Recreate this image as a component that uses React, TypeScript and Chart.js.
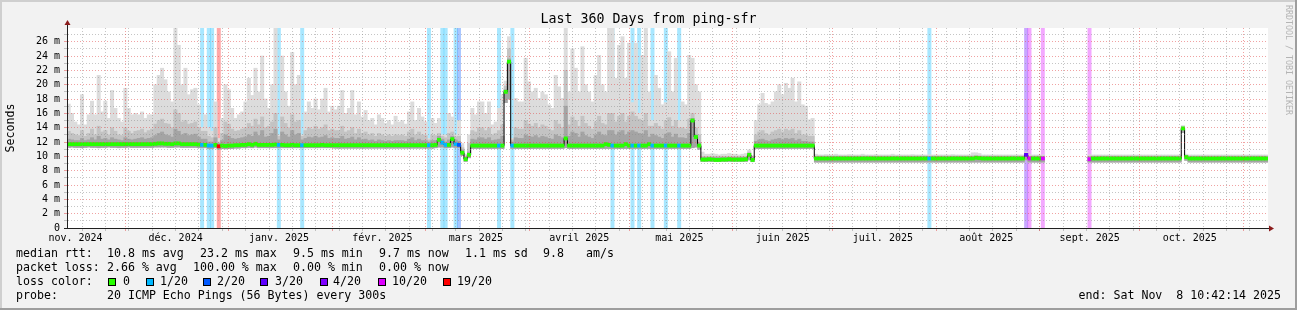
import React, { useEffect, useRef } from 'react';
import { Chart, registerables } from 'chart.js';

Chart.register(...registerables);

// ---------- texts ----------
const TITLE = 'Last 360 Days from ping-sfr';
const Y_AXIS_TITLE = 'Seconds';
const WATERMARK = 'RRDTOOL / TOBI OETIKER';
const DAYS = 360;
const Y_MAX = 27.91;

// ---------- axes (day offsets from the start of the 360-day window) ----------
const monthLabels = ['nov. 2024', 'déc. 2024', 'janv. 2025', 'févr. 2025', 'mars 2025', 'avril 2025', 'mai 2025', 'juin 2025', 'juil. 2025', 'août 2025', 'sept. 2025', 'oct. 2025'];
const monthLabelDays = [2.554, 32.554, 63.554, 94.554, 122.554, 153.554, 183.554, 214.554, 244.554, 275.554, 306.554, 336.554];
const monthStartDays = [17.554, 48.554, 79.554, 107.554, 138.554, 168.554, 199.554, 229.554, 260.554, 291.554, 321.554, 352.554];
const firstMondayDay = 4.554;
const yTickValues = [0, 2, 4, 6, 8, 10, 12, 14, 16, 18, 20, 22, 24, 26];

// ---------- data: one value per day, in ms ----------
const medianRtt = [
  11.7,11.7,11.7,11.7,11.7,11.7,11.7,11.7,11.7,11.7,11.7,11.7,11.7,11.7,11.7,11.7,11.7,11.7,11.7,11.7,
  11.7,11.7,11.7,11.7,11.7,11.7,11.75,11.8,11.8,11.75,11.75,11.7,11.8,11.8,11.7,11.7,11.7,11.7,11.7,11.65,
  11.6,11.6,11.5,11.5,11.6,11.4,11.5,11.45,11.5,11.5,11.55,11.55,11.6,11.6,11.7,11.6,11.75,11.6,11.6,11.6,
  11.6,11.6,11.65,11.6,11.6,11.55,11.55,11.6,11.55,11.55,11.55,11.55,11.55,11.55,11.55,11.55,11.6,11.55,11.55,11.55,
  11.55,11.55,11.55,11.55,11.55,11.55,11.55,11.55,11.55,11.55,11.55,11.55,11.55,11.55,11.55,11.55,11.55,11.55,11.55,11.55,
  11.55,11.55,11.55,11.55,11.55,11.55,11.55,11.55,11.55,11.55,11.6,12.3,11.9,11.6,11.6,12.4,11.7,11.6,10.5,9.6,
  10.2,11.5,11.5,11.5,11.5,11.5,11.5,11.5,11.5,11.5,11.5,19.0,23.2,11.5,11.5,11.5,11.5,11.5,11.5,11.5,
  11.5,11.5,11.5,11.5,11.5,11.5,11.5,11.5,11.5,12.5,11.5,11.5,11.5,11.5,11.5,11.5,11.5,11.5,11.5,11.5,
  11.5,11.7,11.6,11.5,11.5,11.5,11.5,11.7,11.5,11.5,11.5,11.5,11.5,11.5,11.7,11.5,11.5,11.5,11.5,11.5,
  11.5,11.5,11.5,11.5,11.5,11.5,11.5,15.0,12.7,11.5,9.55,9.55,9.6,9.55,9.5,9.5,9.55,9.55,9.6,9.55,
  9.55,9.55,9.55,9.6,10.2,9.5,11.5,11.5,11.5,11.5,11.5,11.5,11.5,11.5,11.5,11.5,11.5,11.5,11.5,11.5,
  11.5,11.5,11.5,11.5,9.7,9.7,9.7,9.7,9.7,9.7,9.7,9.7,9.7,9.7,9.7,9.7,9.7,9.7,9.7,9.7,
  9.7,9.7,9.7,9.7,9.7,9.7,9.7,9.7,9.7,9.7,9.7,9.7,9.7,9.7,9.7,9.7,9.7,9.7,9.7,9.7,
  9.7,9.7,9.7,9.7,9.7,9.7,9.7,9.7,9.7,9.7,9.7,9.7,9.8,9.75,9.7,9.7,9.7,9.7,9.7,9.7,
  9.7,9.7,9.7,9.7,9.7,9.7,9.7,10.2,9.7,9.7,9.7,9.7,9.7,null,null,null,null,null,null,null,
  null,null,null,null,null,null,9.6,9.7,9.7,9.7,9.7,9.7,9.7,9.7,9.7,9.7,9.7,9.7,9.7,9.7,
  9.7,9.7,9.7,9.7,9.7,9.7,9.7,9.7,9.7,9.7,9.7,9.7,9.7,9.7,13.9,9.9,9.7,9.7,9.7,9.7,
  9.7,9.7,9.7,9.7,9.7,9.7,9.7,9.7,9.7,9.7,9.7,9.7,9.7,9.7,9.7,9.7,9.7,9.7,9.7,9.7,
];

const smokeMin = [
  11.25,11.3,11.25,11.25,11.2,11.25,11.3,11.25,11.25,11.2,11.25,11.25,11.3,11.25,11.25,11.2,11.25,11.25,11.3,11.25,
  11.25,11.25,11.25,11.25,11.25,11.25,11.3,11.3,11.3,11.3,11.25,11.25,11.3,11.3,11.25,11.25,11.25,11.25,11.25,11.2,
  11.2,11.2,11.1,11.1,11.2,11.0,11.1,11.05,11.1,11.1,11.15,11.15,11.2,11.2,11.25,11.2,11.3,11.2,11.2,11.2,
  11.2,11.2,11.2,11.2,11.2,11.2,11.2,11.2,11.2,11.2,11.2,11.2,11.2,11.2,11.2,11.2,11.2,11.2,11.2,11.2,
  11.15,11.15,11.15,11.15,11.15,11.15,11.15,11.15,11.15,11.15,11.15,11.15,11.15,11.15,11.15,11.15,11.15,11.15,11.15,11.15,
  11.15,11.15,11.15,11.15,11.15,11.15,11.15,11.15,11.15,11.15,11.2,11.3,11.3,11.2,11.2,11.3,11.25,11.2,10.1,9.3,
  9.8,11.1,11.1,11.1,11.1,11.1,11.1,11.1,11.1,11.1,11.1,17.5,18.0,11.1,11.1,11.1,11.1,11.1,11.1,11.1,
  11.1,11.1,11.1,11.1,11.1,11.1,11.1,11.1,11.1,11.2,11.1,11.1,11.1,11.1,11.1,11.1,11.1,11.1,11.1,11.1,
  11.1,11.1,11.1,11.1,11.1,11.1,11.1,11.1,11.1,11.1,11.1,11.1,11.1,11.1,11.1,11.1,11.1,11.1,11.1,11.1,
  11.1,11.1,11.1,11.1,11.1,11.1,11.1,11.2,11.3,11.0,9.3,9.3,9.3,9.3,9.3,9.3,9.3,9.3,9.3,9.3,
  9.3,9.3,9.3,9.3,9.5,9.25,11.1,11.1,11.1,11.1,11.1,11.1,11.1,11.1,11.1,11.1,11.1,11.1,11.1,11.1,
  11.1,11.1,11.1,11.1,9.2,9.2,9.2,9.2,9.2,9.2,9.2,9.2,9.2,9.2,9.2,9.2,9.2,9.2,9.2,9.2,
  9.2,9.2,9.2,9.2,9.2,9.2,9.2,9.2,9.2,9.2,9.2,9.2,9.2,9.2,9.2,9.2,9.2,9.2,9.2,9.2,
  9.2,9.2,9.2,9.2,9.2,9.2,9.2,9.2,9.2,9.2,9.2,9.2,9.2,9.2,9.2,9.2,9.2,9.2,9.2,9.2,
  9.2,9.2,9.2,9.2,9.2,9.2,9.2,9.5,9.2,9.2,9.2,9.2,9.2,null,null,null,null,null,null,null,
  null,null,null,null,null,null,9.2,9.2,9.2,9.2,9.2,9.2,9.2,9.2,9.2,9.2,9.2,9.2,9.2,9.2,
  9.2,9.2,9.2,9.2,9.2,9.2,9.2,9.2,9.2,9.2,9.2,9.2,9.2,9.2,13.3,9.45,9.2,9.2,9.2,9.2,
  9.2,9.2,9.2,9.2,9.2,9.2,9.2,9.2,9.2,9.2,9.2,9.2,9.2,9.2,9.2,9.2,9.2,9.2,9.2,9.2,
];

const smokeDark = [
  12.4,12.3,12.2,12.2,12.5,12.2,12.3,12.6,12.3,12.8,12.4,12.5,12.3,12.6,12.4,12.3,12.2,12.6,12.4,12.3,
  12.4,12.5,12.6,12.4,12.5,12.6,12.9,13.2,13.4,13.0,12.9,12.7,13.8,13.5,13.0,13.2,12.9,13.0,13.1,12.7,
  12.4,12.4,12.0,12.0,12.6,11.8,12.2,13.0,12.8,12.5,12.4,12.5,12.6,12.7,13.0,12.8,13.4,12.9,13.6,12.7,
  12.8,13.2,13.8,12.3,13.4,13.0,12.7,13.6,13.0,13.2,12.3,12.5,12.7,12.6,12.8,12.6,12.7,12.9,12.5,12.6,
  12.5,12.5,12.8,12.4,12.5,12.7,12.3,12.6,12.3,12.4,12.2,12.3,12.1,12.3,12.2,12.1,12.2,12.1,12.2,12.2,
  12.2,12.1,12.4,12.6,12.2,12.4,12.2,12.2,12.0,12.2,12.2,12.8,12.4,12.0,12.3,12.8,12.3,12.1,10.9,9.9,
  10.6,12.4,12.3,12.6,12.6,12.4,12.6,12.2,12.3,12.4,12.8,19.3,23.6,12.0,12.6,12.5,12.5,13.0,12.8,12.7,
  12.9,12.6,12.8,12.7,12.5,12.4,13.0,12.8,12.6,17.0,12.8,13.4,13.2,12.7,13.4,12.9,12.7,12.5,13.0,13.4,
  13.0,12.9,13.6,13.6,13.0,13.4,13.6,13.0,13.4,13.6,13.4,13.2,13.1,13.6,12.7,13.1,12.9,12.7,12.5,13.1,
  13.3,12.7,13.1,12.6,12.6,12.5,13.2,15.3,13.0,11.9,9.85,9.85,9.85,9.85,9.85,9.85,9.85,9.85,9.85,9.85,
  9.85,9.85,9.85,9.85,10.4,9.8,12.1,12.3,12.4,12.2,12.1,12.3,12.4,12.5,12.3,12.5,12.4,12.5,12.2,12.4,
  12.1,12.1,12.0,12.0,9.95,9.95,9.95,9.95,9.95,9.95,9.95,9.95,9.95,9.95,9.95,9.95,9.95,9.95,9.95,9.95,
  9.95,9.95,9.95,9.95,9.95,9.95,9.95,9.95,9.95,9.95,9.95,9.95,9.95,9.95,9.95,9.95,9.95,9.95,9.95,9.95,
  9.95,9.95,9.95,9.95,9.95,9.95,9.95,9.95,9.95,9.95,9.95,9.95,10.0,10.0,9.95,9.95,9.95,9.95,9.95,9.95,
  9.95,9.95,9.95,9.95,9.95,9.95,9.95,10.35,9.95,9.95,9.95,9.95,9.95,null,null,null,null,null,null,null,
  null,null,null,null,null,null,9.95,9.95,9.95,9.95,9.95,9.95,9.95,9.95,9.95,9.95,9.95,9.95,9.95,9.95,
  9.95,9.95,9.95,9.95,9.95,9.95,9.95,9.95,9.95,9.95,9.95,9.95,9.95,9.95,14.0,10.0,9.95,9.95,9.95,9.95,
  9.95,9.95,9.95,9.95,9.95,9.95,9.95,9.95,9.95,9.95,9.95,9.95,9.95,9.95,9.95,9.95,9.95,9.95,9.95,9.95,
];

const smokeMid = [
  13.5,13.2,13.0,12.9,13.6,12.8,13.2,13.8,13.0,14.2,13.4,13.6,13.0,14.0,13.5,13.0,12.9,14.0,13.5,13.2,
  13.5,13.6,13.8,13.3,13.6,13.8,14.5,15.0,15.2,14.6,14.5,14.0,16.5,16.0,14.8,15.0,14.5,14.6,14.8,14.0,
  13.5,13.5,12.8,12.6,14.0,12.0,13.2,14.8,14.5,13.8,13.5,13.6,13.8,14.0,14.6,14.2,15.2,14.4,15.5,14.0,
  14.2,14.8,16.0,12.8,15.5,14.6,14.0,15.8,14.8,15.0,12.8,13.6,14.0,13.8,14.2,13.8,14.0,14.4,13.6,13.8,
  13.6,13.6,14.2,13.4,13.6,14.0,13.2,13.8,13.2,13.4,13.0,13.2,12.8,13.2,13.0,12.8,13.0,12.8,13.0,12.9,
  13.0,12.8,13.4,13.8,13.0,13.4,13.0,12.9,12.3,13.0,12.9,13.2,12.8,12.6,13.2,13.4,12.7,12.8,11.2,10.0,
  11.8,13.6,13.4,14.0,14.0,13.6,14.0,13.0,13.2,13.6,14.4,19.8,25.0,12.3,14.0,13.8,13.8,15.0,14.5,14.2,
  14.6,14.0,14.4,14.2,13.8,13.6,15.0,14.5,14.0,22.0,14.4,15.5,15.0,14.2,15.6,14.6,14.2,13.8,14.8,15.6,
  14.6,14.4,16.0,16.0,14.8,15.6,16.0,14.8,15.6,16.2,15.6,15.2,15.0,16.0,14.2,14.2,14.6,14.2,13.8,15.0,
  15.4,14.2,15.0,14.0,14.0,13.8,15.2,16.0,14.0,13.0,10.0,10.0,10.0,10.0,10.0,10.0,10.0,10.0,10.0,10.0,
  10.0,10.0,10.0,10.0,10.6,9.95,13.0,13.4,13.6,13.2,13.0,13.4,13.6,13.8,13.4,13.8,13.6,13.8,13.2,13.6,
  13.0,13.0,12.8,12.8,10.05,10.05,10.05,10.05,10.05,10.05,10.05,10.05,10.05,10.05,10.05,10.05,10.05,10.05,10.05,10.05,
  10.05,10.05,10.05,10.05,10.05,10.05,10.05,10.05,10.05,10.05,10.05,10.05,10.05,10.05,10.05,10.05,10.05,10.05,10.05,10.05,
  10.05,10.05,10.05,10.05,10.05,10.05,10.05,10.05,10.05,10.05,10.05,10.1,10.15,10.1,10.05,10.05,10.05,10.05,10.05,10.05,
  10.05,10.05,10.05,10.05,10.05,10.05,10.05,10.45,10.05,10.05,10.05,10.05,10.05,null,null,null,null,null,null,null,
  null,null,null,null,null,null,10.05,10.05,10.05,10.05,10.05,10.05,10.05,10.05,10.05,10.05,10.05,10.05,10.05,10.05,
  10.05,10.05,10.05,10.05,10.05,10.05,10.05,10.05,10.05,10.05,10.05,10.05,10.05,10.05,14.1,10.1,10.05,10.05,10.05,10.05,
  10.05,10.05,10.05,10.05,10.05,10.05,10.05,10.05,10.05,10.05,10.05,10.05,10.05,10.05,10.05,10.05,10.05,10.05,10.05,10.05,
];

const smokeMax = [
  17.3,16.0,14.8,14.4,18.6,14.4,15.8,17.7,15.8,21.3,16.2,17.7,15.3,19.2,16.7,15.3,14.8,19.5,16.7,15.8,
  16.0,15.8,16.2,15.3,15.8,15.8,20.0,21.3,22.3,20.7,19.0,17.6,27.9,25.5,20.0,22.3,18.6,19.3,19.5,17.2,
  14.0,15.8,14.0,13.5,17.6,12.5,15.3,20.0,19.3,16.7,15.3,15.8,16.2,17.6,20.9,18.5,22.3,19.0,24.0,18.0,
  16.7,20.0,27.9,13.0,24.0,19.0,17.0,24.5,20.0,21.3,13.0,16.2,17.6,16.7,18.0,16.5,18.0,19.5,16.2,17.0,
  16.5,17.0,19.2,16.0,16.7,19.2,15.8,17.6,15.5,16.4,15.0,15.3,14.4,15.8,15.3,14.6,15.0,14.4,15.6,14.8,
  15.0,14.5,16.2,17.6,15.0,16.7,15.5,14.8,12.5,15.3,14.6,15.3,13.0,13.0,16.0,15.5,13.0,15.0,11.8,10.3,
  13.0,16.7,15.8,17.6,17.6,16.0,17.6,14.4,14.8,16.7,18.6,20.5,26.7,12.5,18.1,17.6,17.6,23.7,20.4,19.0,
  19.5,18.1,19.0,18.6,17.2,16.7,21.3,19.7,18.1,27.9,19.0,25.0,22.3,19.0,25.3,20.0,19.0,17.6,21.3,24.1,
  20.0,19.0,27.9,27.9,20.9,25.5,26.7,20.9,25.8,17.5,25.8,16.0,24.1,27.9,19.0,15.0,21.3,19.5,17.2,17.5,
  24.6,19.0,23.7,15.0,17.6,17.2,24.1,23.7,20.0,19.0,10.6,10.3,10.3,10.4,10.3,10.2,10.3,10.3,10.4,10.3,
  10.3,10.2,10.3,10.4,10.9,10.1,15.0,17.2,18.8,17.4,17.2,17.6,19.0,20.0,18.6,20.2,19.5,20.9,17.6,20.4,
  17.2,17.0,15.1,15.3,10.3,10.2,10.2,10.25,10.2,10.2,10.3,10.2,10.2,10.2,10.25,10.2,10.2,10.2,10.3,10.2,
  10.2,10.2,10.25,10.2,10.2,10.2,10.2,10.3,10.2,10.2,10.2,10.2,10.2,10.25,10.2,10.2,10.2,10.2,10.2,10.2,
  10.2,10.2,10.2,10.2,10.2,10.25,10.2,10.2,10.2,10.2,10.2,10.5,10.5,10.4,10.2,10.2,10.2,10.2,10.2,10.2,
  10.2,10.2,10.2,10.2,10.2,10.2,10.2,10.6,10.2,10.2,10.2,10.2,10.2,null,null,null,null,null,null,null,
  null,null,null,null,null,null,10.2,10.2,10.2,10.2,10.2,10.2,10.2,10.2,10.2,10.2,10.2,10.2,10.2,10.2,
  10.2,10.2,10.2,10.2,10.2,10.2,10.2,10.2,10.2,10.2,10.2,10.2,10.2,10.2,14.3,10.3,10.2,10.2,10.2,10.2,
  10.2,10.2,10.2,10.2,10.2,10.2,10.2,10.2,10.2,10.2,10.2,10.2,10.2,10.2,10.2,10.2,10.2,10.2,10.2,10.2,
];

// days with packet loss and their loss class (index into lossColors)
const lossDays = [40, 42, 43, 45, 63, 70, 108, 112, 113, 116, 117, 129, 133, 163, 169, 171, 175, 179, 183, 258, 287, 288, 292, 306];
const lossClass = [1, 1, 1, 6, 1, 1, 1, 1, 1, 1, 2, 1, 1, 1, 1, 1, 1, 1, 1, 1, 3, 5, 5, 5];

const lossColors = ['#26ff00', '#00b8ff', '#0059ff', '#5e00ff', '#7e00ff', '#dd00ff', '#ff0000'];
const lossLabels = ['0', '1/20', '2/20', '3/20', '4/20', '10/20', '19/20'];

// ---------- legend texts ----------
const rttStats = ['10.8 ms avg', '23.2 ms max', '9.5 ms min', '9.7 ms now', '1.1 ms sd', '9.8', 'am/s'];
const lossStats = ['2.66 % avg', '100.00 % max', '0.00 % min', '0.00 % now'];
const probeText = '20 ICMP Echo Pings (56 Bytes) every 300s';
const endText = 'end: Sat Nov  8 10:42:14 2025';

// ---------- layout / style ----------
const MONO = "'DejaVu Sans Mono', monospace";
const LAYOUT = {
  legendX: 16,
  valueX: [107, 200, 293, 379, 465, 543, 586],
  lossX: [107, 193, 293, 379],
  swatchX: [108, 146, 203, 260, 320, 378, 443],
  swatchLabelX: [123, 160, 217, 275, 333, 392, 457],
  lineY: [254, 268.3, 282.3, 296.4],
  endRight: 1281,
};
const MEDIAN_HALF = 0.22;

function hexToRgba(hex: string, a: number) {
  const n = parseInt(hex.slice(1), 16);
  return `rgba(${(n >> 16) & 255},${(n >> 8) & 255},${n & 255},${a})`;
}

function floating(lo: (number | null)[], hi: (number | null)[]) {
  const out: { x: number; y: [number, number] }[] = [];
  lo.forEach((l, i) => {
    const h = hi[i];
    if (l != null && h != null) out.push({ x: i + 0.5, y: [l, h] });
  });
  return out;
}

const rrdPlugin = {
  id: 'rrdLook',
  beforeDraw(chart: any) {
    const { ctx, chartArea: a, width, height } = chart;
    ctx.save();
    ctx.fillStyle = '#f2f2f2';
    ctx.fillRect(0, 0, width, height);
    ctx.fillStyle = '#cfcfcf';
    ctx.fillRect(0, 0, width, 2);
    ctx.fillRect(0, 0, 2, height);
    ctx.fillStyle = '#9e9e9e';
    ctx.fillRect(0, height - 2, width, 2);
    ctx.fillRect(width - 2, 0, 2, height);
    ctx.fillStyle = '#ffffff';
    ctx.fillRect(a.left, a.top, a.right - a.left, a.bottom - a.top);
    ctx.restore();
  },
  afterDatasetsDraw(chart: any) {
    const { ctx, chartArea: a, scales } = chart;
    const xs = scales.x;
    const ys = scales.y;
    const MINOR = 'rgba(140,140,140,0.5)';
    const MAJOR = 'rgba(225,70,70,0.5)';
    ctx.save();
    ctx.lineWidth = 1;
    const hl = (v: number, c: string) => {
      const y = Math.floor(ys.getPixelForValue(v)) + 0.5;
      ctx.strokeStyle = c;
      ctx.setLineDash([1, 2]);
      ctx.beginPath();
      ctx.moveTo(a.left + 1, y);
      ctx.lineTo(a.right, y);
      ctx.stroke();
      ctx.setLineDash([]);
      ctx.beginPath();
      ctx.moveTo(a.left - 3, y);
      ctx.lineTo(a.left, y);
      ctx.stroke();
    };
    const vl = (d: number, c: string) => {
      const x = Math.floor(xs.getPixelForValue(d)) + 0.5;
      ctx.strokeStyle = c;
      ctx.setLineDash([1, 2]);
      ctx.beginPath();
      ctx.moveTo(x, a.top);
      ctx.lineTo(x, a.bottom);
      ctx.stroke();
      ctx.setLineDash([]);
      ctx.beginPath();
      ctx.moveTo(x, a.bottom + 1);
      ctx.lineTo(x, a.bottom + 3);
      ctx.stroke();
    };
    for (let v = 1; v < Y_MAX; v += 2) hl(v, MINOR);
    for (let d = firstMondayDay; d < DAYS; d += 7) vl(d, MINOR);
    for (let v = 2; v < Y_MAX; v += 2) hl(v, MAJOR);
    monthStartDays.forEach((d) => vl(d, MAJOR));
    ctx.restore();
  },
  afterDraw(chart: any) {
    const { ctx, chartArea: a, width } = chart;
    ctx.save();
    // axes
    ctx.fillStyle = '#202020';
    ctx.fillRect(a.left - 3, a.bottom, a.right - a.left + 5, 1);
    ctx.fillRect(a.left, a.top - 3, 1, a.bottom - a.top + 4);
    ctx.fillStyle = '#8b1c1c';
    ctx.beginPath();
    ctx.moveTo(a.right + 6, a.bottom + 0.5);
    ctx.lineTo(a.right + 1, a.bottom - 2.5);
    ctx.lineTo(a.right + 1, a.bottom + 3.5);
    ctx.closePath();
    ctx.fill();
    ctx.beginPath();
    ctx.moveTo(a.left + 0.5, a.top - 8);
    ctx.lineTo(a.left - 2.5, a.top - 3);
    ctx.lineTo(a.left + 3.5, a.top - 3);
    ctx.closePath();
    ctx.fill();

    // title
    ctx.fillStyle = '#000';
    ctx.font = `13.3px ${MONO}`;
    ctx.textAlign = 'center';
    ctx.textBaseline = 'middle';
    ctx.fillText(TITLE, width / 2, 20);

    // watermark
    ctx.save();
    ctx.translate(1288, 5);
    ctx.rotate(Math.PI / 2);
    ctx.font = `8.3px ${MONO}`;
    ctx.fillStyle = '#b4b4b4';
    ctx.textAlign = 'left';
    ctx.textBaseline = 'middle';
    ctx.fillText(WATERMARK, 0, 0);
    ctx.restore();

    // legend
    ctx.font = `11.6px ${MONO}`;
    ctx.fillStyle = '#000';
    ctx.textAlign = 'left';
    ctx.textBaseline = 'middle';
    const [y1, y2, y3, y4] = LAYOUT.lineY;
    ctx.fillText('median rtt:', LAYOUT.legendX, y1);
    rttStats.forEach((t, i) => ctx.fillText(t, LAYOUT.valueX[i], y1));
    ctx.fillText('packet loss:', LAYOUT.legendX, y2);
    lossStats.forEach((t, i) => ctx.fillText(t, LAYOUT.lossX[i], y2));
    ctx.fillText('loss color:', LAYOUT.legendX, y3);
    lossLabels.forEach((t, i) => {
      const sx = LAYOUT.swatchX[i];
      ctx.fillStyle = lossColors[i];
      ctx.fillRect(sx, Math.round(y3) - 4, 8, 8);
      ctx.strokeStyle = '#000';
      ctx.lineWidth = 1;
      ctx.strokeRect(sx + 0.5, Math.round(y3) - 3.5, 7, 7);
      ctx.fillStyle = '#000';
      ctx.fillText(t, LAYOUT.swatchLabelX[i], y3);
    });
    ctx.fillText('probe:', LAYOUT.legendX, y4);
    ctx.fillText(probeText, LAYOUT.valueX[0], y4);
    ctx.textAlign = 'right';
    ctx.fillText(endText, LAYOUT.endRight, y4);
    ctx.restore();
  },
};

export default function App() {
  const ref = useRef<HTMLCanvasElement | null>(null);

  useEffect(() => {
    const canvas = ref.current;
    if (!canvas) return;

    const barBase = {
      type: 'bar' as const,
      grouped: false,
      barPercentage: 1,
      categoryPercentage: 1,
      borderWidth: 0,
    };

    const stripeData = lossDays.map((d) => ({ x: d + 0.5, y: [0, Y_MAX] as [number, number] }));
    const stripeColors = lossClass.map((c) => hexToRgba(lossColors[c], 0.34));

    const lossOfDay = new Map<number, number>();
    lossDays.forEach((d, k) => lossOfDay.set(d, lossClass[k]));
    const medianBand: { x: number; y: [number, number] }[] = [];
    const medianColors: string[] = [];
    medianRtt.forEach((m, i) => {
      if (m == null) return;
      medianBand.push({ x: i + 0.5, y: [m - MEDIAN_HALF, m + MEDIAN_HALF] });
      medianColors.push(lossColors[lossOfDay.get(i) ?? 0]);
    });

    const chart = new Chart(canvas, {
      type: 'bar',
      data: {
        datasets: [
          { ...barBase, label: 'loss', data: stripeData as any, backgroundColor: stripeColors, order: 10 },
          { ...barBase, label: 'smoke max', data: floating(smokeMin, smokeMax) as any, backgroundColor: '#dcdcdc', order: 9 },
          { ...barBase, label: 'smoke mid', data: floating(smokeMin, smokeMid) as any, backgroundColor: '#c3c3c3', order: 8 },
          { ...barBase, label: 'smoke dark', data: floating(smokeMin, smokeDark) as any, backgroundColor: '#a4a4a4', order: 7 },
          {
            type: 'line' as const,
            label: 'median line',
            data: medianRtt.map((m, i) => ({ x: i + 0.5, y: m })) as any,
            borderColor: '#000000',
            borderWidth: 1,
            pointRadius: 0,
            stepped: 'middle',
            spanGaps: false,
            order: 6,
          },
          { ...barBase, label: 'median rtt', data: medianBand as any, backgroundColor: medianColors, order: 5 },
        ],
      },
      options: {
        animation: false,
        responsive: false,
        devicePixelRatio: 1,
        events: [],
        layout: { padding: { top: 28, right: 29, bottom: 62, left: 0 } },
        plugins: {
          legend: { display: false },
          tooltip: { enabled: false },
          title: { display: false },
        },
        scales: {
          x: {
            type: 'linear',
            min: 0,
            max: DAYS,
            offset: false,
            grid: { display: false, drawTicks: false, offset: false },
            border: { display: false },
            afterBuildTicks: (scale: any) => {
              scale.ticks = monthLabelDays.map((v) => ({ value: v }));
            },
            afterFit: (scale: any) => {
              scale.height = 20;
            },
            ticks: {
              autoSkip: false,
              maxRotation: 0,
              minRotation: 0,
              padding: 4,
              color: '#000',
              font: { family: MONO, size: 10 },
              callback: (_v: any, i: number) => monthLabels[i],
            },
          },
          y: {
            type: 'linear',
            min: 0,
            max: Y_MAX,
            grid: { display: false, drawTicks: false },
            border: { display: false },
            afterBuildTicks: (scale: any) => {
              scale.ticks = yTickValues.map((v) => ({ value: v }));
            },
            afterFit: (scale: any) => {
              scale.width = 67;
            },
            ticks: {
              autoSkip: false,
              padding: 7,
              color: '#000',
              font: { family: MONO, size: 10 },
              callback: (v: any) => (v === 0 ? '0' : `${v} m`),
            },
            title: {
              display: true,
              text: Y_AXIS_TITLE,
              color: '#000',
              font: { family: MONO, size: 11.6 },
              padding: { top: 4, bottom: 0 },
            },
          },
        },
      } as any,
      plugins: [rrdPlugin],
    });

    return () => chart.destroy();
  }, []);

  return (
    <div style={{ position: 'fixed', left: 0, top: 0, width: 1297, height: 310 }}>
      <canvas ref={ref} width={1297} height={310} style={{ display: 'block', width: 1297, height: 310 }} />
    </div>
  );
}
